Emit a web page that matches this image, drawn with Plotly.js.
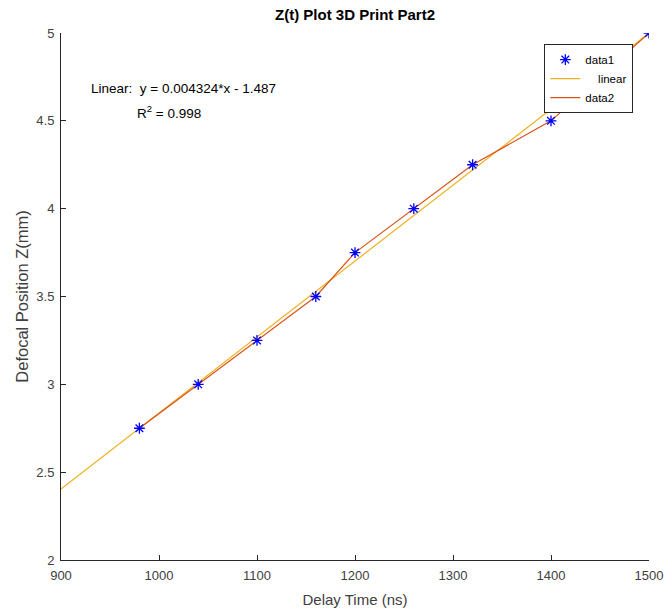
<!DOCTYPE html>
<html><head><meta charset="utf-8">
<script src="https://cdn.plot.ly/plotly-3.0.1.min.js"></script>
<style>html,body{margin:0;padding:0;background:#fff;}</style>
</head><body>
<div id="chart" style="width:667px;height:615px;"></div>
<script>
const delayTime = [980, 1040, 1100, 1160, 1200, 1260, 1320, 1400, 1500];
const defocalZ = [2.75, 3.0, 3.25, 3.5, 3.75, 4.0, 4.25, 4.5, 5.0];
const fitSlope = 0.004324;
const fitIntercept = -1.487;
const fitX = [900, 1500];
const fitY = fitX.map(x => fitSlope * x + fitIntercept);
const xTicks = [900, 1000, 1100, 1200, 1300, 1400, 1500];
const yTicks = [2, 2.5, 3, 3.5, 4, 4.5, 5];
const yTickText = ['2', '2.5', '3', '3.5', '4', '4.5', '5'];

const font = 'Liberation Sans, Arial, sans-serif';
const traces = [
  {x: fitX, y: fitY, mode: 'lines', name: '&nbsp;&nbsp;&nbsp;&nbsp;linear', legendrank: 2,
   line: {color: '#EDB120', width: 1.2}},
  {x: delayTime, y: defocalZ, mode: 'lines', name: 'data2', legendrank: 3,
   line: {color: '#D95319', width: 1.2}},
  {x: delayTime, y: defocalZ, mode: 'markers', name: 'data1', legendrank: 1,
   marker: {symbol: 'asterisk-open', size: 9, color: '#0000FF', line: {color: '#0000FF', width: 1.3}}}
];
const axisCommon = {
  showgrid: false, zeroline: false, showline: true, linecolor: '#262626', linewidth: 1,
  ticks: 'inside', ticklen: 5, tickcolor: '#262626', mirror: false,
  tickfont: {family: font, size: 13, color: '#404040'}
};
const layout = {
  width: 667, height: 615,
  margin: {l: 61, r: 18, t: 33, b: 55},
  paper_bgcolor: '#fff', plot_bgcolor: '#fff',
  title: {text: '<b>Z(t) Plot 3D Print Part2</b>', font: {family: font, size: 15, color: '#000'},
          x: 0.5, xref: 'paper', y: 0.985, yref: 'container', yanchor: 'top'},
  xaxis: Object.assign({}, axisCommon, {range: [900, 1500], tickvals: xTicks, ticklabelstandoff: 3,
    title: {text: 'Delay Time (ns)', font: {family: font, size: 15, color: '#404040'}, standoff: 12}}),
  yaxis: Object.assign({}, axisCommon, {range: [2, 5], tickvals: yTicks, ticktext: yTickText, ticklabelstandoff: 3,
    title: {text: 'Defocal Position Z(mm)', font: {family: font, size: 16.5, color: '#404040'}, standoff: 3}}),
  legend: {x: 0.822, y: 0.979, xanchor: 'left', yanchor: 'top', bgcolor: '#fff',
           bordercolor: '#262626', borderwidth: 1, font: {family: font, size: 11.5, color: '#000'},
           tracegroupgap: 0, itemwidth: 30},
  annotations: [
    {xref: 'paper', yref: 'paper', x: 0.048, y: 0.894, xanchor: 'left', yanchor: 'middle', showarrow: false,
     text: 'Linear:&nbsp;&nbsp;y = 0.004324*x - 1.487', font: {family: font, size: 13.5, color: '#000'}},
    {xref: 'paper', yref: 'paper', x: 0.126, y: 0.851, xanchor: 'left', yanchor: 'middle', showarrow: false,
     text: 'R<sup>2</sup> = 0.998', font: {family: font, size: 13.5, color: '#000'}}
  ],
  showlegend: true
};
Plotly.newPlot('chart', traces, layout, {displayModeBar: false});
</script>
</body></html>
